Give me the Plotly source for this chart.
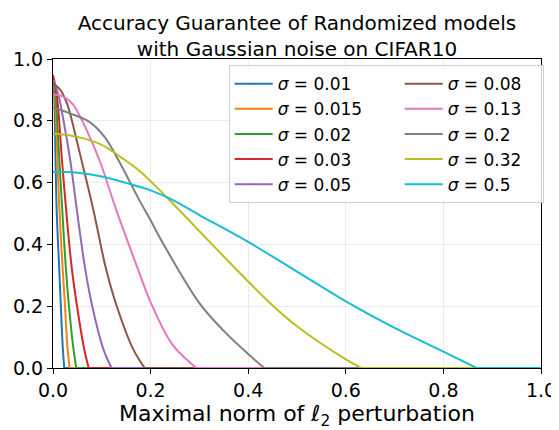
import plotly.graph_objects as go

sigma_labels = ["0.01", "0.015", "0.02", "0.03", "0.05", "0.08", "0.13", "0.2", "0.32", "0.5"]
colors = ["#1f77b4", "#ff7f0e", "#2ca02c", "#d62728", "#9467bd",
          "#8c564b", "#e377c2", "#7f7f7f", "#bcbd22", "#17becf"]

x_001 = [0, 0.0025, 0.0052, 0.0075, 0.0125, 0.016, 0.0198, 0.023, 1.0]
y_001 = [0.925, 0.88, 0.673, 0.51, 0.33, 0.203, 0.073, 0, 0]
x_0015 = [0, 0.0037, 0.0092, 0.0132, 0.0195, 0.0245, 0.0293, 0.034, 1.0]
y_0015 = [0.935, 0.88, 0.673, 0.51, 0.33, 0.203, 0.073, 0, 0]
x_002 = [0, 0.0052, 0.013, 0.019, 0.026, 0.0325, 0.041, 0.0476, 1.0]
y_002 = [0.94, 0.88, 0.673, 0.51, 0.33, 0.203, 0.073, 0, 0]
x_003 = [0, 0.008, 0.0184, 0.027, 0.038, 0.049, 0.0625, 0.073, 1.0]
y_003 = [0.948, 0.88, 0.673, 0.51, 0.33, 0.203, 0.073, 0, 0]
x_005 = [0, 0.01, 0.022, 0.036, 0.049, 0.066, 0.08, 0.103, 0.12, 1.0]
y_005 = [0.932, 0.89, 0.797, 0.665, 0.51, 0.32, 0.203, 0.062, 0, 0]
x_008 = [0, 0.015, 0.03, 0.045, 0.06, 0.083, 0.108, 0.13, 0.164, 0.188, 1.0]
y_008 = [0.921, 0.9, 0.85, 0.76, 0.662, 0.51, 0.325, 0.203, 0.062, 0, 0]
x_013 = [0, 0.02, 0.04, 0.056, 0.076, 0.097, 0.13, 0.175, 0.2, 0.246, 0.294, 1.0]
y_013 = [0.886, 0.879, 0.855, 0.812, 0.745, 0.665, 0.51, 0.316, 0.213, 0.073, 0, 0]
x_02 = [0, 0.035, 0.076, 0.107, 0.135, 0.178, 0.2, 0.222, 0.3, 0.35, 0.4, 0.433, 1.0]
y_02 = [0.843, 0.824, 0.795, 0.745, 0.67, 0.54, 0.478, 0.413, 0.21, 0.12, 0.045, 0, 0]
x_032 = [0, 0.05, 0.1, 0.141, 0.178, 0.239, 0.318, 0.4, 0.443, 0.5, 0.6, 0.632, 1.0]
y_032 = [0.759, 0.748, 0.722, 0.68, 0.637, 0.543, 0.413, 0.28, 0.213, 0.135, 0.028, 0, 0]
x_05 = [0, 0.05, 0.1, 0.15, 0.2, 0.24, 0.3, 0.4, 0.5, 0.6, 0.7, 0.8, 0.868, 1.0]
y_05 = [0.635, 0.632, 0.62, 0.599, 0.575, 0.548, 0.495, 0.408, 0.312, 0.216, 0.13, 0.053, 0, 0]

series_x = [x_001, x_0015, x_002, x_003, x_005, x_008, x_013, x_02, x_032, x_05]
series_y = [y_001, y_0015, y_002, y_003, y_005, y_008, y_013, y_02, y_032, y_05]

tick_vals = [0, 0.2, 0.4, 0.6, 0.8, 1.0]
tick_text = ["0.0", "0.2", "0.4", "0.6", "0.8", "1.0"]

FONT = "DejaVu Sans"

fig = go.Figure()
for i, (lab, xs, ys, c) in enumerate(zip(sigma_labels, series_x, series_y, colors)):
    col = i // 5
    row = i % 5
    # decreasing part of the curve
    fig.add_trace(go.Scatter(
        x=xs[:-1], y=ys[:-1], mode="lines",
        line=dict(color=c, width=2, shape="spline", smoothing=1.0),
        name="<i>σ</i> = " + lab,
        legendrank=row * 2 + col + 1,
        legendwidth=117 if col == 0 else 90,
    ))
    # flat zero tail
    fig.add_trace(go.Scatter(
        x=xs[-2:], y=ys[-2:], mode="lines",
        line=dict(color=c, width=2), showlegend=False,
    ))

axis_common = dict(
    range=[0, 1], tickvals=tick_vals, ticktext=tick_text,
    showgrid=True, gridcolor="#ebebeb", gridwidth=1,
    showline=True, linecolor="black", linewidth=1.2, mirror=True,
    ticks="outside", ticklen=5, tickwidth=1, tickcolor="black",
    tickfont=dict(family=FONT, size=19, color="black"),
    zeroline=False, automargin=False, ticklabeloverflow="allow",
)

# page has an 8px body margin: figure is sized/margined to land in the 559x430 window
fig.update_layout(
    width=551, height=422,
    margin=dict(l=45, r=18, t=51, b=62),
    paper_bgcolor="white", plot_bgcolor="white",
    font=dict(family=FONT, color="black"),
    title=dict(
        text="Accuracy Guarantee of Randomized models<br>with Gaussian noise on CIFAR10",
        font=dict(family=FONT, size=20, color="black"),
        x=0.5, xref="paper", xanchor="center",
        y=1 - 22 / 422, yref="container", yanchor="middle",
    ),
    xaxis=dict(axis_common, title=dict(
        text="Maximal norm of <i>ℓ</i><sub>2</sub> perturbation",
        font=dict(family=FONT, size=22, color="black"), standoff=0)),
    yaxis=dict(axis_common),
    legend=dict(
        orientation="h",
        x=0.36, y=0.98, xanchor="left", yanchor="top",
        bgcolor="rgba(255,255,255,0.8)", bordercolor="#d0d0d0", borderwidth=1,
        font=dict(family=FONT, size=17, color="black"),
        itemwidth=38,
        entrywidthmode="pixels",
    ),
    showlegend=True,
)

fig.write_html("out.html")
